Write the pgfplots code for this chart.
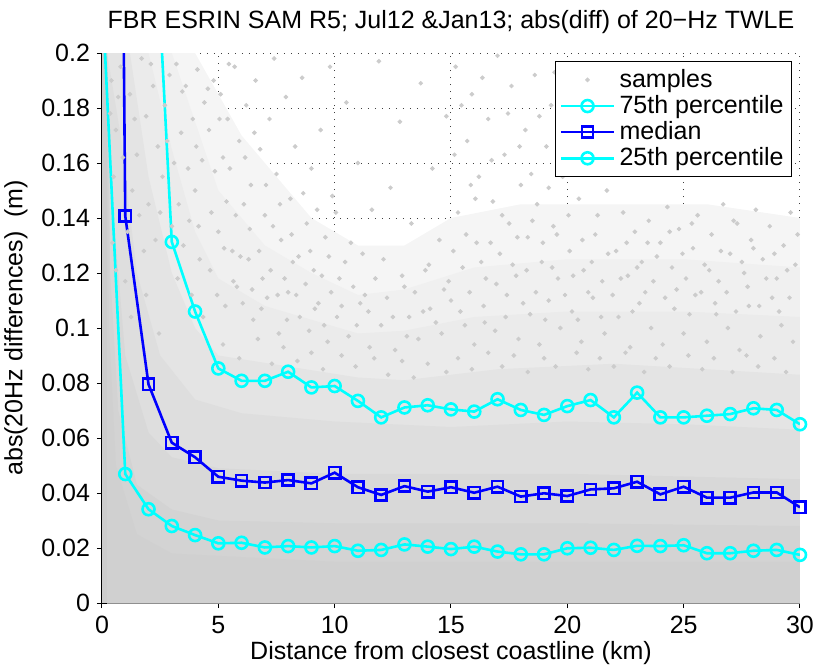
\documentclass[border=0pt]{standalone}
\usepackage{fontspec}
\setmainfont{Liberation Sans}
\usepackage{pgfplots}
\pgfplotsset{compat=1.18}
\definecolor{samplegray}{rgb}{0.8,0.8,0.8}
\definecolor{mcyan}{rgb}{0,1,1}
\definecolor{mblue}{rgb}{0,0,1}

\begin{document}
\begin{tikzpicture}[font=\fontsize{12.5}{15}\selectfont]
\path[use as bounding box] (-51pt,-31.5pt) rectangle (357pt,301.5pt);
\begin{axis}[
  scale only axis, width=349pt, height=275pt,
  xmin=0, xmax=30, ymin=0, ymax=0.2,
  axis x line*=bottom, axis y line*=left,
  axis line style={black, line width=0.5pt, -},
  xtick={0,5,10,15,20,25,30},
  xticklabels={0,5,10,15,20,25,30},
  ytick={0,0.02,0.04,0.06,0.08,0.1,0.12,0.14,0.16,0.18,0.2},
  yticklabels={0,0.02,0.04,0.06,0.08,0.1,0.12,0.14,0.16,0.18,0.2},
  xticklabel style={yshift=-3pt, inner sep=1pt},
  tick align=outside, major tick length=2.5pt,
  tick style={black, line width=0.5pt},
  grid=major,
  grid style={black!75, line width=0.5pt, dash pattern=on 0.5pt off 3pt},
  title={FBR ESRIN SAM R5; Jul12 \&Jan13; abs(diff) of 20−Hz TWLE},
  xlabel={Distance from closest coastline (km)},
  xlabel style={at={(axis description cs:0.5,0)}, anchor=base, yshift=-28pt, inner sep=0pt},
  ylabel={abs(20Hz differences)~~(m)},
  legend style={at={(rel axis cs:0.9885,0.9855)}, anchor=north east,
    draw=black, fill=white, inner xsep=2pt, inner ysep=2pt, row sep=-1.5pt},
  legend cell align=left,
  legend image code/.code={\draw[mark repeat=2,mark phase=2] plot coordinates {(0cm,0cm)(0.47cm,0cm)(0.94cm,0cm)};},
]
% density of the sample cloud, from light (top) to dense (bottom)
\addplot[fill=samplegray!20, draw=none, forget plot] coordinates {
(0.22,0.2)(4,0.2)(5,0.185)(6,0.17)(7.5,0.155)(9,0.14)(11,0.13)(13,0.13)(15,0.14)(18,0.145)(22,0.145)(26,0.145)(30,0.14)} \closedcycle;
\addplot[fill=samplegray!30, draw=none, forget plot] coordinates {
(0.22,0.2)(3,0.2)(4,0.175)(5,0.15)(7,0.13)(9,0.12)(11,0.112)(13,0.114)(16,0.122)(20,0.125)(25,0.125)(30,0.122)} \closedcycle;
\addplot[fill=samplegray!40, draw=none, forget plot] coordinates {
(0.22,0.2)(2,0.2)(3,0.165)(4,0.135)(5,0.118)(7,0.108)(9,0.103)(11,0.098)(13,0.099)(16,0.104)(20,0.106)(25,0.106)(30,0.104)} \closedcycle;
\addplot[fill=samplegray!52, draw=none, forget plot] coordinates {
(0.22,0.2)(1.2,0.2)(2,0.155)(3,0.12)(4,0.1)(5,0.09)(8,0.086)(11,0.082)(13,0.081)(17,0.085)(22,0.087)(26,0.085)(30,0.083)} \closedcycle;
\addplot[fill=samplegray!64, draw=none, forget plot] coordinates {
(0.22,0.2)(0.8,0.17)(1.5,0.12)(2.5,0.09)(4,0.074)(6,0.069)(10,0.066)(15,0.064)(20,0.066)(25,0.065)(30,0.063)} \closedcycle;
\addplot[fill=samplegray!76, draw=none, forget plot] coordinates {
(0.22,0.2)(0.5,0.14)(1,0.09)(2,0.062)(3,0.053)(5,0.049)(10,0.047)(20,0.047)(30,0.045)} \closedcycle;
\addplot[fill=samplegray!86, draw=none, forget plot] coordinates {
(0.22,0.2)(0.35,0.12)(0.7,0.07)(1.5,0.043)(3,0.034)(5,0.03)(10,0.029)(20,0.029)(30,0.028)} \closedcycle;
\addplot[fill=samplegray!92, draw=none, forget plot] coordinates {
(0.22,0.2)(0.3,0.1)(0.6,0.05)(1.5,0.025)(3,0.018)(10,0.015)(30,0.015)} \closedcycle;
\addplot[fill=samplegray, draw=none, forget plot] coordinates {(0,0.2)(0.22,0.2)} \closedcycle;

% samples
\addplot[only marks, mark=*, mark size=0.95pt, samplegray, mark options={draw=samplegray, fill=samplegray}] table {
x y
3.2 0.196
3.6 0.188
4.1 0.194
4.4 0.182
3.9 0.176
4.8 0.19
4.6 0.172
5.1 0.185
5.4 0.176
5.2 0.162
5.7 0.195
5.9 0.168
5.5 0.158
6.2 0.181
6.4 0.152
6.1 0.145
6.6 0.19
6.8 0.165
7.0 0.141
7.2 0.176
7.4 0.198
7.5 0.156
7.7 0.132
7.9 0.184
8.1 0.147
8.3 0.166
8.2 0.124
8.6 0.191
8.8 0.138
9.0 0.158
9.1 0.121
9.4 0.172
9.6 0.133
9.8 0.195
9.9 0.148
10.2 0.118
10.5 0.182
10.7 0.131
11.0 0.16
11.3 0.112
11.6 0.143
11.9 0.197
12.1 0.125
12.4 0.151
12.8 0.175
13.0 0.115
13.3 0.138
13.7 0.189
13.9 0.121
14.2 0.158
14.5 0.132
14.8 0.177
14.9 0.117
15.2 0.195
15.3 0.142
15.5 0.122
15.7 0.168
15.9 0.185
16.1 0.131
16.2 0.155
16.5 0.118
16.6 0.176
16.8 0.146
17.0 0.199
17.1 0.127
17.3 0.163
17.5 0.138
17.6 0.188
17.8 0.119
18.0 0.152
18.2 0.172
18.3 0.133
18.6 0.192
18.7 0.145
18.9 0.124
19.1 0.166
19.3 0.181
19.4 0.137
19.6 0.118
19.8 0.155
20.0 0.196
20.1 0.128
20.3 0.171
20.5 0.147
20.7 0.121
20.8 0.185
21.0 0.161
21.2 0.134
21.4 0.176
21.5 0.117
21.7 0.15
21.9 0.193
22.1 0.128
22.4 0.142
22.6 0.119
22.9 0.135
23.2 0.124
23.5 0.139
23.7 0.117
24.0 0.131
24.3 0.144
24.5 0.122
24.8 0.136
25.1 0.118
25.4 0.129
25.6 0.141
25.9 0.123
26.2 0.134
26.5 0.117
26.7 0.145
27.0 0.127
27.3 0.138
27.6 0.12
27.9 0.132
28.1 0.143
28.4 0.125
28.7 0.137
29.0 0.118
29.3 0.13
29.6 0.142
29.8 0.123
0.4 0.19
0.6 0.172
0.8 0.195
1.2 0.185
1.5 0.163
1.7 0.198
1.9 0.177
2.2 0.188
2.4 0.166
2.7 0.181
2.9 0.192
1.3 0.15
2.0 0.145
2.6 0.155
0.5 0.155
1.1 0.135
1.8 0.128
2.3 0.132
3.1 0.16
3.4 0.171
3.7 0.158
3.3 0.145
4.0 0.15
4.3 0.161
4.7 0.142
3.5 0.13
4.2 0.125
5.0 0.135
5.6 0.128
6.3 0.125
6.9 0.118
5.3 0.108
5.8 0.115
6.5 0.103
7.1 0.111
7.6 0.098
8.0 0.113
8.5 0.104
8.9 0.099
9.3 0.109
9.7 0.095
10.1 0.104
10.6 0.097
11.1 0.109
11.5 0.093
12.0 0.101
12.6 0.092
13.2 0.104
13.6 0.096
14.1 0.107
14.6 0.098
15.0 0.11
15.6 0.101
16.0 0.094
16.4 0.108
16.9 0.099
17.4 0.112
17.9 0.096
18.4 0.105
18.8 0.094
19.2 0.11
19.7 0.1
20.2 0.106
20.6 0.095
21.1 0.111
21.6 0.098
22.2 0.104
22.7 0.093
23.1 0.109
23.6 0.1
24.1 0.094
24.6 0.107
25.0 0.098
25.5 0.112
26.0 0.095
26.4 0.105
26.9 0.1
27.4 0.092
27.8 0.108
28.3 0.097
28.8 0.111
29.2 0.101
29.7 0.095
0.35 0.178
0.45 0.131
0.7 0.184
0.9 0.162
1.0 0.117
1.4 0.176
1.6 0.141
2.1 0.196
2.5 0.142
2.8 0.168
3.0 0.137
3.25 0.118
3.45 0.186
3.75 0.139
3.85 0.112
4.05 0.166
4.15 0.137
4.35 0.104
4.55 0.187
4.65 0.121
4.85 0.157
4.95 0.112
5.05 0.176
5.25 0.129
5.35 0.146
5.45 0.196
5.65 0.117
5.75 0.141
5.95 0.126
6.05 0.109
6.15 0.162
6.35 0.136
6.45 0.114
6.55 0.171
6.75 0.128
6.85 0.107
7.05 0.152
7.25 0.121
7.35 0.137
7.55 0.112
7.65 0.145
7.85 0.118
7.95 0.103
8.15 0.134
8.35 0.112
8.45 0.126
8.65 0.149
8.75 0.116
8.95 0.128
9.15 0.107
9.25 0.143
9.45 0.119
9.55 0.101
9.75 0.126
9.85 0.113
10.05 0.142
10.3 0.108
10.45 0.124
10.8 0.115
10.95 0.101
11.2 0.127
11.45 0.106
11.75 0.118
12.25 0.111
12.5 0.104
12.9 0.119
13.1 0.097
13.45 0.113
13.8 0.106
14.05 0.123
14.35 0.102
14.7 0.114
15.1 0.128
15.4 0.106
15.65 0.134
15.8 0.113
16.05 0.147
16.3 0.124
16.45 0.102
16.7 0.131
16.95 0.116
17.2 0.141
17.35 0.104
17.65 0.123
17.85 0.133
18.1 0.109
18.25 0.121
18.5 0.139
18.65 0.113
18.95 0.131
19.05 0.103
19.35 0.122
19.55 0.134
19.9 0.112
20.05 0.141
20.25 0.119
20.45 0.103
20.65 0.132
20.9 0.113
21.05 0.124
21.3 0.141
21.45 0.104
21.75 0.127
21.95 0.112
22.3 0.118
22.55 0.131
22.8 0.106
23.0 0.122
23.35 0.113
23.45 0.131
23.85 0.126
24.2 0.111
24.4 0.135
24.7 0.114
24.95 0.127
25.25 0.105
25.35 0.138
25.75 0.113
26.1 0.121
26.35 0.109
26.6 0.128
26.85 0.113
27.15 0.139
27.25 0.106
27.5 0.124
27.75 0.115
28.0 0.129
28.25 0.108
28.55 0.118
28.9 0.127
29.1 0.106
29.45 0.121
29.55 0.111
29.9 0.134
15.15 0.163
15.45 0.181
15.85 0.152
16.35 0.191
16.75 0.161
17.45 0.178
17.95 0.166
18.45 0.156
18.8 0.177
19.2 0.151
19.45 0.193
0.6 0.121
1.25 0.104
1.9 0.112
2.45 0.098
5.2 0.094
5.9 0.089
6.7 0.096
7.3 0.087
7.8 0.093
8.4 0.088
9.0 0.091
9.5 0.085
10.3 0.09
10.9 0.086
11.7 0.089
12.3 0.083
12.9 0.088
13.4 0.082
14.0 0.087
14.8 0.084
15.3 0.089
15.9 0.085
16.6 0.091
17.2 0.086
17.7 0.09
18.3 0.084
19.0 0.089
19.5 0.086
20.4 0.091
20.9 0.085
21.4 0.089
22.0 0.086
22.5 0.091
23.3 0.084
23.8 0.089
24.4 0.086
25.2 0.09
25.8 0.085
26.3 0.089
27.1 0.084
27.7 0.09
28.2 0.086
28.9 0.089
29.4 0.084
};
\addlegendentry{samples}

\addplot[mcyan, line width=1.3pt, mark=o, mark size=3pt] coordinates {
(2,0.295)(3,0.1313)(4,0.106)(5,0.0853)(6,0.0808)(7,0.0808)(8,0.0841)(9,0.0784)(10,0.0789)
(11,0.0735)(12,0.0675)(13,0.0711)(14,0.0719)(15,0.0704)(16,0.0696)(17,0.0741)(18,0.0702)
(19,0.0684)(20,0.0716)(21,0.0738)(22,0.0675)(23,0.0765)(24,0.0675)(25,0.0675)(26,0.0681)
(27,0.0687)(28,0.0708)(29,0.0702)(30,0.065)};
\addlegendentry{75th percentile}

\addplot[mblue, line width=1.3pt, mark=square, mark size=2.8pt] coordinates {
(0,1.1)(1,0.1407)(2,0.0795)(3,0.0583)(4,0.053)(5,0.0459)(6,0.0445)(7,0.0438)(8,0.0447)
(9,0.0435)(10,0.0474)(11,0.0421)(12,0.0393)(13,0.0425)(14,0.0405)(15,0.0421)(16,0.0401)
(17,0.0423)(18,0.0387)(19,0.0399)(20,0.0389)(21,0.0413)(22,0.0417)(23,0.0441)(24,0.0395)
(25,0.0423)(26,0.0383)(27,0.0383)(28,0.0402)(29,0.0402)(30,0.0348)};
\addlegendentry{median}

\addplot[mcyan, line width=1.3pt, mark=o, mark size=3pt] coordinates {
(0,0.223)(1,0.0469)(2,0.0341)(3,0.028)(4,0.0247)(5,0.0217)(6,0.0219)(7,0.0202)(8,0.0207)
(9,0.0202)(10,0.0207)(11,0.019)(12,0.0193)(13,0.0213)(14,0.0205)(15,0.0196)(16,0.0205)
(17,0.0187)(18,0.0177)(19,0.0177)(20,0.0199)(21,0.0201)(22,0.0193)(23,0.0208)(24,0.0207)
(25,0.021)(26,0.0181)(27,0.0181)(28,0.019)(29,0.0193)(30,0.0175)};
\addlegendentry{25th percentile}
\end{axis}
\end{tikzpicture}
\end{document}
